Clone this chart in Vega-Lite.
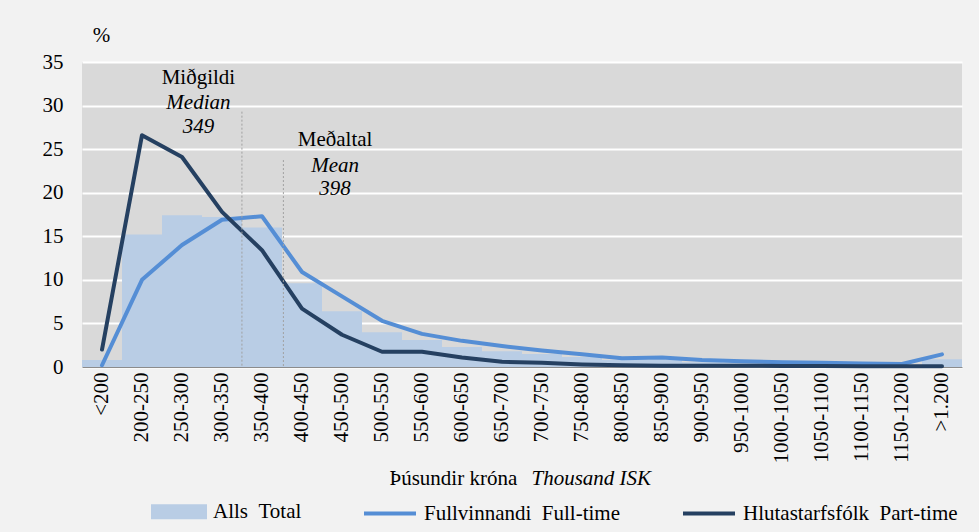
{
  "$schema": "https://vega.github.io/schema/vega-lite/v6.json",
  "width": 880,
  "height": 305,
  "autosize": {"type": "none"},
  "padding": {"left": 82, "top": 62, "right": 17, "bottom": 165},
  "background": "#f2f2f2",
  "datasets": {
    "dist": [
      {"cat": "<200", "total": 0.8, "full": 0.2, "part": 2.0},
      {"cat": "200-250", "total": 15.2, "full": 10.0, "part": 26.6},
      {"cat": "250-300", "total": 17.4, "full": 14.0, "part": 24.1},
      {"cat": "300-350", "total": 17.2, "full": 16.9, "part": 17.8},
      {"cat": "350-400", "total": 16.0, "full": 17.3, "part": 13.4},
      {"cat": "400-450", "total": 9.6, "full": 10.9, "part": 6.7},
      {"cat": "450-500", "total": 6.4, "full": 8.1, "part": 3.7},
      {"cat": "500-550", "total": 4.0, "full": 5.3, "part": 1.75},
      {"cat": "550-600", "total": 3.1, "full": 3.8, "part": 1.75},
      {"cat": "600-650", "total": 2.3, "full": 3.0, "part": 1.1},
      {"cat": "650-700", "total": 1.8, "full": 2.4, "part": 0.6},
      {"cat": "700-750", "total": 1.5, "full": 1.9, "part": 0.5},
      {"cat": "750-800", "total": 1.15, "full": 1.45, "part": 0.3},
      {"cat": "800-850", "total": 0.8, "full": 1.0, "part": 0.2},
      {"cat": "850-900", "total": 0.8, "full": 1.1, "part": 0.15},
      {"cat": "900-950", "total": 0.55, "full": 0.8, "part": 0.15},
      {"cat": "950-1000", "total": 0.45, "full": 0.65, "part": 0.15},
      {"cat": "1000-1050", "total": 0.4, "full": 0.55, "part": 0.12},
      {"cat": "1050-1100", "total": 0.35, "full": 0.5, "part": 0.12},
      {"cat": "1100-1150", "total": 0.3, "full": 0.4, "part": 0.1},
      {"cat": "1150-1200", "total": 0.25, "full": 0.35, "part": 0.1},
      {"cat": ">1.200", "total": 0.9, "full": 1.45, "part": 0.1}
    ],
    "stats": [
      {"stat": "Median", "is": "Miðgildi", "en": "Median", "value": 349},
      {"stat": "Mean", "is": "Meðaltal", "en": "Mean", "value": 398}
    ]
  },
  "layer": [
    {
      "data": {"name": "dist"},
      "layer": [
        {
          "mark": {"type": "bar"},
          "encoding": {
            "x": {
              "field": "cat",
              "type": "nominal",
              "scale": {
                "domain": ["<200", "200-250", "250-300", "300-350", "350-400", "400-450", "450-500", "500-550", "550-600", "600-650", "650-700", "700-750", "750-800", "800-850", "850-900", "900-950", "950-1000", "1000-1050", "1050-1100", "1100-1150", "1150-1200", ">1.200"],
                "paddingInner": 0,
                "paddingOuter": 0
              },
              "axis": {
                "title": "Þúsundir króna",
                "titleX": 307,
                "titleY": 117,
                "titleAlign": "left",
                "titleBaseline": "alphabetic",
                "labelAngle": -90,
                "labelPadding": 5,
                "ticks": false,
                "tickSize": 0,
                "domainColor": "#8c8c8c",
                "domainWidth": 1,
                "grid": false
              }
            },
            "y": {
              "field": "total",
              "type": "quantitative",
              "scale": {"domain": [0, 35], "nice": false},
              "axis": {
                "title": "%",
                "titleAngle": 0,
                "titleX": 19,
                "titleY": -27,
                "titleAlign": "center",
                "titleBaseline": "middle",
                "values": [0, 5, 10, 15, 20, 25, 30, 35],
                "domain": false,
                "ticks": false,
                "tickSize": 0,
                "labelPadding": 19,
                "grid": true,
                "gridColor": "#ffffff",
                "gridWidth": 2,
                "gridOpacity": 1
              }
            },
            "color": {
              "datum": "total",
              "type": "nominal",
              "title": null,
              "scale": {"domain": ["total", "full", "part"], "range": ["#b9cde5", "#558ed5", "#254061"]},
              "legend": {
                "orient": "none",
                "legendX": 69,
                "legendY": 421.5,
                "direction": "horizontal",
                "columns": 3,
                "columnPadding": 54,
                "padding": 0,
                "title": null,
                "labelFontSize": 21,
                "labelColor": "black",
                "labelLimit": 0,
                "labelOffset": 6,
                "symbolSize": 2704,
                "symbolStrokeWidth": 4,
                "labelExpr": "datum.value === 'total' ? 'Alls\u00a0\u00a0Total' : datum.value === 'full' ? 'Fullvinnandi\u00a0\u00a0Full-time' : 'Hlutastarfsfólk\u00a0\u00a0Part-time'",
                "encode": {
                  "symbols": {
                    "update": {
                      "shape": {"signal": "datum.value === 'total' ? 'M-1,-0.21H1V0.21H-1Z' : 'stroke'"},
                      "fill": {"signal": "datum.value === 'total' ? '#b9cde5' : 'transparent'"},
                      "stroke": {"signal": "datum.value === 'total' ? 'transparent' : (datum.value === 'full' ? '#558ed5' : '#254061')"},
                      "strokeWidth": {"value": 4},
                      "opacity": {"value": 1}
                    }
                  }
                }
              }
            }
          }
        },
        {
          "transform": [{"fold": ["full", "part"], "as": ["series", "pct"]}],
          "mark": {"type": "line", "strokeWidth": 4, "strokeCap": "round", "strokeJoin": "round"},
          "encoding": {
            "x": {"field": "cat", "type": "nominal"},
            "y": {"field": "pct", "type": "quantitative", "title": "%"},
            "color": {"field": "series", "type": "nominal", "title": null}
          }
        }
      ]
    },
    {
      "data": {"name": "stats"},
      "layer": [
        {
          "transform": [{"filter": "datum.stat === 'Median'"}],
          "mark": {"type": "rule", "strokeDash": [2, 2], "color": "#a0a0a0", "strokeWidth": 1},
          "encoding": {
            "x": {
              "field": "value",
              "type": "quantitative",
              "scale": {"domain": [160, 1200], "nice": false, "zero": false},
              "axis": {
                "orient": "bottom",
                "title": "Thousand ISK",
                "titleFontStyle": "italic",
                "titleX": 449,
                "titleY": 117,
                "titleAlign": "left",
                "titleBaseline": "alphabetic",
                "labels": false,
                "ticks": false,
                "domain": false,
                "grid": false
              }
            },
            "y": {"datum": 29.3, "type": "quantitative"},
            "y2": {"datum": 0}
          }
        },
        {
          "transform": [{"filter": "datum.stat === 'Mean'"}],
          "mark": {"type": "rule", "strokeDash": [2, 2], "color": "#a0a0a0", "strokeWidth": 1},
          "encoding": {
            "x": {"field": "value", "type": "quantitative"},
            "y": {"datum": 23.75, "type": "quantitative"},
            "y2": {"datum": 0}
          }
        },
        {
          "transform": [{"filter": "datum.stat === 'Median'"}],
          "mark": {"type": "text", "dx": -43.5, "baseline": "middle", "align": "center"},
          "encoding": {
            "x": {"field": "value", "type": "quantitative"},
            "y": {"datum": 33.16, "type": "quantitative"},
            "text": {"field": "is"}
          }
        },
        {
          "transform": [{"filter": "datum.stat === 'Median'"}],
          "mark": {"type": "text", "dx": -43.5, "baseline": "middle", "align": "center", "fontStyle": "italic"},
          "encoding": {
            "x": {"field": "value", "type": "quantitative"},
            "y": {"datum": 30.3, "type": "quantitative"},
            "text": {"field": "en"}
          }
        },
        {
          "transform": [{"filter": "datum.stat === 'Median'"}],
          "mark": {"type": "text", "dx": -43.5, "baseline": "middle", "align": "center", "fontStyle": "italic"},
          "encoding": {
            "x": {"field": "value", "type": "quantitative"},
            "y": {"datum": 27.54, "type": "quantitative"},
            "text": {"field": "value", "type": "quantitative", "format": "d"}
          }
        },
        {
          "transform": [{"filter": "datum.stat === 'Mean'"}],
          "mark": {"type": "text", "dx": 51.7, "baseline": "middle", "align": "center"},
          "encoding": {
            "x": {"field": "value", "type": "quantitative"},
            "y": {"datum": 26.05, "type": "quantitative"},
            "text": {"field": "is"}
          }
        },
        {
          "transform": [{"filter": "datum.stat === 'Mean'"}],
          "mark": {"type": "text", "dx": 51.7, "baseline": "middle", "align": "center", "fontStyle": "italic"},
          "encoding": {
            "x": {"field": "value", "type": "quantitative"},
            "y": {"datum": 23.07, "type": "quantitative"},
            "text": {"field": "en"}
          }
        },
        {
          "transform": [{"filter": "datum.stat === 'Mean'"}],
          "mark": {"type": "text", "dx": 51.7, "baseline": "middle", "align": "center", "fontStyle": "italic"},
          "encoding": {
            "x": {"field": "value", "type": "quantitative"},
            "y": {"datum": 20.43, "type": "quantitative"},
            "text": {"field": "value", "type": "quantitative", "format": "d"}
          }
        }
      ]
    }
  ],
  "resolve": {"scale": {"x": "independent"}, "axis": {"x": "independent"}},
  "config": {
    "font": "'Liberation Serif', 'DejaVu Serif', serif",
    "view": {"fill": "#d9d9d9", "stroke": null},
    "axis": {
      "labelFont": "'Liberation Serif', 'DejaVu Serif', serif",
      "titleFont": "'Liberation Serif', 'DejaVu Serif', serif",
      "labelFontSize": 21,
      "titleFontSize": 21,
      "titleFontWeight": "normal",
      "labelColor": "black",
      "titleColor": "black"
    },
    "legend": {
      "labelFont": "'Liberation Serif', 'DejaVu Serif', serif",
      "titleFont": "'Liberation Serif', 'DejaVu Serif', serif"
    },
    "text": {"font": "'Liberation Serif', 'DejaVu Serif', serif", "fontSize": 21, "color": "black"}
  }
}
